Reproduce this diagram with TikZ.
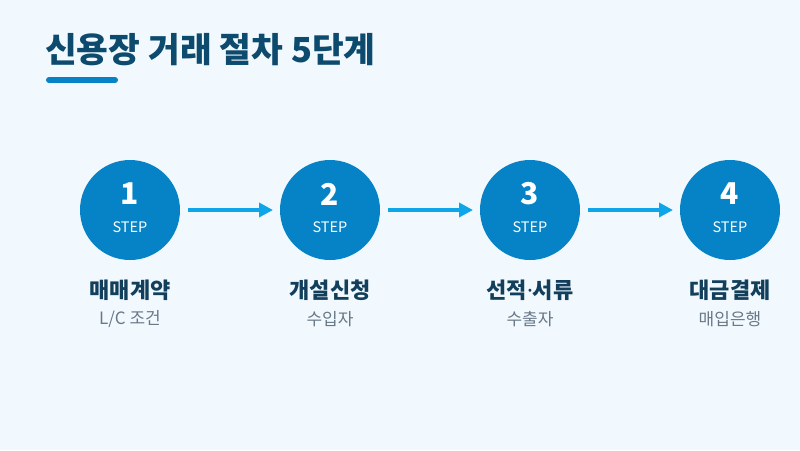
\documentclass[tikz,border=0pt]{standalone}
\usepackage{fontspec}
\setmainfont{Noto Sans CJK KR}
\newfontfamily\latinf{Noto Sans}
\usetikzlibrary{arrows.meta}
\definecolor{bgc}{HTML}{F2F9FE}
\definecolor{circ}{HTML}{0583C6}
\definecolor{arr}{HTML}{0EA5E9}
\definecolor{ttl}{HTML}{0C4A6E}
\definecolor{lbl}{HTML}{123F5C}
\definecolor{sub}{HTML}{687888}
\tikzset{
  stepcircle/.style={circle, fill=circ, minimum size=100pt, inner sep=0pt},
  stepnum/.style={text=white, font=\bfseries\fontsize{30}{32}\selectfont},
  steptag/.style={text=white, font=\fontsize{14.5}{16}\selectfont},
  steplabel/.style={text=lbl, font=\bfseries\fontsize{22}{25}\selectfont},
  stepsub/.style={text=sub, font=\fontsize{17}{20}\selectfont},
  flow/.style={draw=arr, line width=3.5pt, -{Triangle[length=14pt,width=14pt]}}
}
\begin{document}
\begin{tikzpicture}[x=1pt,y=-1pt]
\fill[bgc] (0,0) rectangle (800,450);
\useasboundingbox (0,0) rectangle (800,450);
\node[anchor=west, text=ttl, font=\bfseries\fontsize{34.5}{40}\selectfont, inner sep=0pt] (title) at (45,50) {신용장 거래 절차 5단계};
\draw[circ, line width=6pt, line cap=round] (49,80) -- (115,80);
\foreach \i/\x/\lab/\sb in {1/130/매매계약/{L/C 조건}, 2/330/개설신청/수입자, 3/530/{선적{\latinf\bfseries ·}서류}/수출자, 4/730/대금결제/매입은행}{
  \node[stepcircle] (c\i) at (\x,210) {};
  \node[stepnum] (n\i) at (\x,194) {\i};
  \node[steptag] (t\i) at (\x,227) {STEP};
  \node[steplabel] (l\i) at (\x,290) {\lab};
  \node[stepsub] (s\i) at (\x,319) {\sb};
}
\coordinate (a1s) at (188,210); \coordinate (a1e) at (273,210);
\coordinate (a2s) at (388,210); \coordinate (a2e) at (473,210);
\coordinate (a3s) at (588,210); \coordinate (a3e) at (673,210);
\draw[flow] (a1s) -- (a1e);
\draw[flow] (a2s) -- (a2e);
\draw[flow] (a3s) -- (a3e);
\end{tikzpicture}
\end{document}
